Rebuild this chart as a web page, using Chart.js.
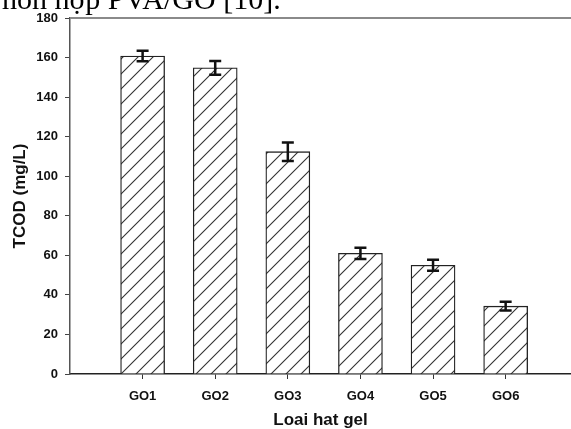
<!DOCTYPE html>
<html>
<head>
<meta charset="utf-8">
<script src="https://cdn.jsdelivr.net/npm/chart.js@4.4.1/dist/chart.umd.min.js"></script>
<style>
  html, body { margin: 0; padding: 0; background: #fff; overflow: hidden; }
  #wrap { position: relative; width: 571px; height: 429px; }
  #cap { position: absolute; left: 2px; top: -16px; font-family: "Liberation Serif", serif; font-size: 30px; line-height: 30px; color: #000; white-space: nowrap; z-index: 2; }
  canvas { position: absolute; left: 0; top: 0; }
</style>
</head>
<body>
<div id="wrap">
  <div id="cap">hỗn hợp PVA/GO [10].</div>
  <canvas id="c" width="571" height="429"></canvas>
</div>
<script>
const categories = ['GO1', 'GO2', 'GO3', 'GO4', 'GO5', 'GO6'];
const tcodValues = [160.8, 154.8, 112.4, 61.0, 55.0, 34.3];
const tcodErrors = [2.7, 3.5, 4.7, 2.8, 2.8, 2.2];
const yTitle = 'TCOD (mg/L)';
const xTitle = 'Loai hat gel';

function hatch() {
  const s = 15;
  const p = document.createElement('canvas');
  p.width = s; p.height = s;
  const g = p.getContext('2d');
  g.fillStyle = '#fff';
  g.fillRect(0, 0, s, s);
  g.strokeStyle = '#333';
  g.lineWidth = 1.1;
  g.beginPath();
  g.moveTo(0, s); g.lineTo(s, 0);
  g.moveTo(-2, 2); g.lineTo(2, -2);
  g.moveTo(s - 2, s + 2); g.lineTo(s + 2, s - 2);
  g.stroke();
  return document.getElementById('c').getContext('2d').createPattern(p, 'repeat');
}

const extras = {
  id: 'extras',
  afterDatasetsDraw(chart) {
    const ctx = chart.ctx, xs = chart.scales.x, ys = chart.scales.y;
    ctx.save();
    ctx.strokeStyle = '#111';
    ctx.lineWidth = 2.5;
    tcodValues.forEach((v, i) => {
      const x = xs.getPixelForValue(i + 1);
      const t = ys.getPixelForValue(v + tcodErrors[i]);
      const b = ys.getPixelForValue(v - tcodErrors[i]);
      ctx.beginPath();
      ctx.moveTo(x, t); ctx.lineTo(x, b);
      ctx.moveTo(x - 6, t); ctx.lineTo(x + 6, t);
      ctx.moveTo(x - 6, b); ctx.lineTo(x + 6, b);
      ctx.stroke();
    });
    const a = chart.chartArea;
    ctx.strokeStyle = '#8a8a8a';
    ctx.lineWidth = 2;
    ctx.beginPath();
    ctx.moveTo(a.left, a.top); ctx.lineTo(a.right, a.top);
    ctx.stroke();
    ctx.restore();
  }
};

new Chart(document.getElementById('c'), {
  type: 'bar',
  data: {
    datasets: [{
      data: categories.map((c, i) => ({ x: i + 1, y: tcodValues[i] })),
      backgroundColor: hatch(),
      borderColor: '#222',
      borderWidth: 1.3,
      barThickness: 44
    }]
  },
  options: {
    responsive: false,
    animation: false,
    devicePixelRatio: 1,
    layout: { padding: { top: 18, right: 0, left: 0, bottom: 0 } },
    plugins: { legend: { display: false }, tooltip: { enabled: false } },
    scales: {
      x: {
        type: 'linear',
        min: 0,
        max: 6.9,
        offset: false,
        afterFit(s) { s.height = 55; },
        border: { color: '#222', width: 1.5 },
        grid: {
          offset: false,
          drawOnChartArea: false,
          drawTicks: true,
          tickLength: 5,
          tickColor: (ctx) => (ctx.tick && Number.isInteger(ctx.tick.value) && ctx.tick.value >= 1 && ctx.tick.value <= categories.length) ? '#333' : 'rgba(0,0,0,0)'
        },
        ticks: {
          stepSize: 1,
          includeBounds: false,
          autoSkip: false,
          maxRotation: 0,
          padding: 10,
          color: '#111',
          font: { family: 'Liberation Sans, Arial, sans-serif', size: 13, weight: 'bold' },
          callback: (v) => categories[v - 1] || ''
        },
        title: {
          display: true,
          text: xTitle,
          color: '#111',
          font: { family: 'Liberation Sans, Arial, sans-serif', size: 17, weight: 'bold', lineHeight: 1 },
          padding: { top: 0, bottom: 0 }
        }
      },
      y: {
        min: 0,
        max: 180,
        afterFit(s) { s.width = 70; },
        border: { color: '#555', width: 1.5 },
        grid: { drawOnChartArea: false, drawTicks: true, tickLength: 5, tickColor: '#444' },
        ticks: {
          stepSize: 20,
          padding: 7,
          color: '#111',
          font: { family: 'Liberation Sans, Arial, sans-serif', size: 13, weight: 'bold' }
        },
        title: {
          display: true,
          text: yTitle,
          color: '#111',
          font: { family: 'Liberation Sans, Arial, sans-serif', size: 17, weight: 'bold', lineHeight: 1 },
          padding: { top: 12, bottom: 0 }
        }
      }
    }
  },
  plugins: [extras]
});
</script>
</body>
</html>
